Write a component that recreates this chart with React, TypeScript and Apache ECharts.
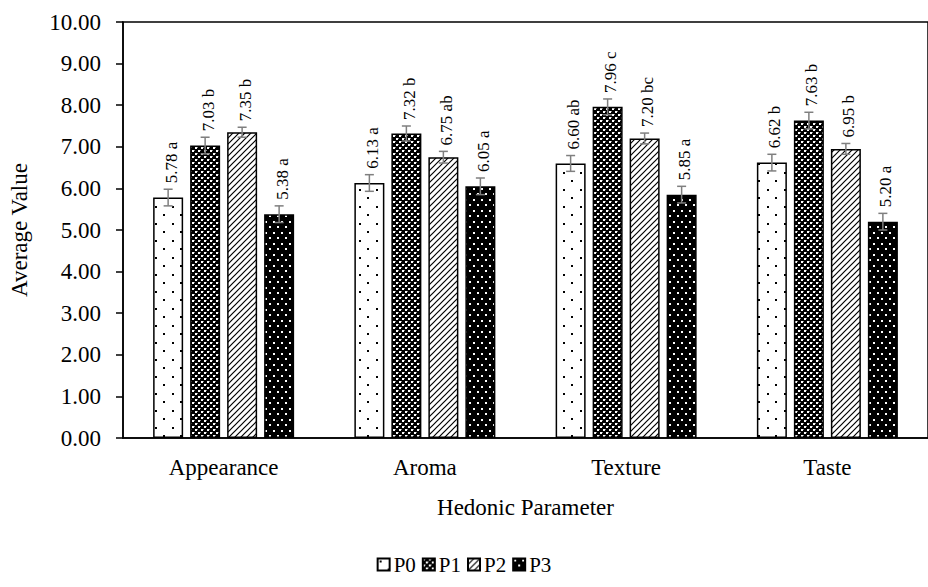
import React, { useEffect, useRef } from "react";
import * as echarts from "echarts";

const categories = ["Appearance", "Aroma", "Texture", "Taste"];
const seriesNames = ["P0", "P1", "P2", "P3"];
const p0Values = [5.78, 6.13, 6.6, 6.62];
const p1Values = [7.03, 7.32, 7.96, 7.63];
const p2Values = [7.35, 6.75, 7.2, 6.95];
const p3Values = [5.38, 6.05, 5.85, 5.2];
const p0Errors = [0.2, 0.2, 0.19, 0.2];
const p1Errors = [0.2, 0.18, 0.19, 0.2];
const p2Errors = [0.12, 0.14, 0.13, 0.13];
const p3Errors = [0.2, 0.2, 0.2, 0.2];
const p0Letters = ["a", "a", "ab", "b"];
const p1Letters = ["b", "b", "c", "b"];
const p2Letters = ["b", "ab", "bc", "b"];
const p3Letters = ["a", "a", "a", "a"];
const yMin = 0;
const yMax = 10;
const yInterval = 1;

const allValues = [p0Values, p1Values, p2Values, p3Values];
const allErrors = [p0Errors, p1Errors, p2Errors, p3Errors];
const allLetters = [p0Letters, p1Letters, p2Letters, p3Letters];

const FONT = "'Liberation Serif', 'Times New Roman', serif";
const BAR_W = 30;
const BAR_GAP = 7;

function makePattern(kind: number) {
  const c = document.createElement("canvas");
  let w = 8;
  let h = 8;
  if (kind === 0) { w = 17; h = 17; }
  if (kind === 1) { w = 6; h = 6; }
  if (kind === 2) { w = 6; h = 6; }
  if (kind === 3) { w = 8; h = 11; }
  c.width = w;
  c.height = h;
  const ctx = c.getContext("2d")!;
  if (kind === 0) {
    ctx.fillStyle = "#fff";
    ctx.fillRect(0, 0, w, h);
    ctx.fillStyle = "#000";
    ctx.fillRect(2, 2, 2, 2);
    ctx.fillRect(10, 10, 2, 2);
  } else if (kind === 1) {
    ctx.fillStyle = "#000";
    ctx.fillRect(0, 0, w, h);
    ctx.fillStyle = "#fff";
    ctx.fillRect(0, 0, 2, 2);
    ctx.fillRect(3, 3, 2, 2);
    ctx.fillStyle = "#888";
    ctx.fillRect(2, 0, 1, 1);
    ctx.fillRect(5, 3, 1, 1);
  } else if (kind === 2) {
    ctx.fillStyle = "#fff";
    ctx.fillRect(0, 0, w, h);
    ctx.strokeStyle = "#000";
    ctx.lineWidth = 1.2;
    ctx.beginPath();
    ctx.moveTo(-1, h + 1);
    ctx.lineTo(w + 1, -1);
    ctx.moveTo(-1, 1);
    ctx.lineTo(1, -1);
    ctx.moveTo(w - 1, h + 1);
    ctx.lineTo(w + 1, h - 1);
    ctx.stroke();
  } else {
    ctx.fillStyle = "#000";
    ctx.fillRect(0, 0, w, h);
    ctx.fillStyle = "#fff";
    ctx.fillRect(1, 1, 2, 2);
    ctx.fillRect(5, 6, 2, 2);
  }
  return { image: c.toDataURL(), repeat: "repeat", imageWidth: w, imageHeight: h };
}

export default function App() {
  const ref = useRef<HTMLDivElement>(null);
  useEffect(() => {
    document.body.style.margin = "0";
    const chart = echarts.init(ref.current!, null, { renderer: "svg" });
    const patterns = [0, 1, 2, 3].map((k) => makePattern(k));

    const records: any[] = [];
    for (let s = 0; s < 4; s++) {
      for (let c = 0; c < categories.length; c++) {
        records.push({ c, s, v: allValues[s][c], e: allErrors[s][c], l: allLetters[s][c] });
      }
    }

    const barSeries = seriesNames.map((name, s) => ({
      name,
      type: "bar",
      data: allValues[s],
      barWidth: BAR_W,
      barGap: (BAR_GAP / BAR_W) * 100 + "%",
      itemStyle: { color: patterns[s] as any, borderColor: "#000", borderWidth: 1.5 },
      z: 2,
    }));

    const errSeries = {
      type: "custom",
      name: "err",
      z: 5,
      data: records.map((r) => [r.c, r.v, r.e, r.s]),
      renderItem: (params: any, api: any) => {
        const r = records[params.dataIndex];
        const center = api.coord([r.c, 0])[0];
        const x = center + (r.s - 1.5) * (BAR_W + BAR_GAP);
        const yTop = api.coord([r.c, r.v + r.e])[1];
        const yBot = api.coord([r.c, r.v - r.e])[1];
        const capHalf = 4.5;
        const st = { stroke: "#7f7f7f", lineWidth: 1.5 };
        return {
          type: "group",
          children: [
            { type: "line", shape: { x1: x, y1: yTop, x2: x, y2: yBot }, style: st },
            { type: "line", shape: { x1: x - capHalf, y1: yTop, x2: x + capHalf, y2: yTop }, style: st },
            { type: "line", shape: { x1: x - capHalf, y1: yBot, x2: x + capHalf, y2: yBot }, style: st },
            {
              type: "text",
              x: x + 3,
              y: yTop - 6,
              rotation: Math.PI / 2,
              style: {
                text: r.v.toFixed(2) + " " + r.l,
                fontSize: 17,
                fontFamily: FONT,
                fill: "#000",
                align: "left",
                verticalAlign: "middle",
              },
            },
          ],
        };
      },
    };

    chart.setOption({
      animation: false,
      backgroundColor: "#fff",
      grid: {
        left: 123,
        top: 22,
        right: -11,
        bottom: 149,
        show: true,
        borderColor: "#000",
        borderWidth: 1.5,
        backgroundColor: "transparent",
      },
      legend: {
        data: seriesNames,
        left: "center",
        top: 554,
        itemWidth: 12,
        itemHeight: 12,
        itemGap: 6,
        padding: 0,
        icon: "rect",
        textStyle: { fontSize: 21, fontFamily: FONT, color: "#000", padding: [0, 0, 0, -1] },
      },
      xAxis: {
        type: "category",
        data: categories,
        name: "Hedonic Parameter",
        nameLocation: "middle",
        nameGap: 58,
        nameTextStyle: { fontSize: 23, fontFamily: FONT, color: "#000" },
        axisLine: { lineStyle: { color: "#000", width: 1.5 } },
        axisTick: { alignWithLabel: true, length: 5, lineStyle: { color: "#000", width: 1.5 } },
        axisLabel: { fontSize: 23, fontFamily: FONT, color: "#000", margin: 18 },
      },
      yAxis: {
        type: "value",
        min: yMin,
        max: yMax,
        interval: yInterval,
        name: "Average Value",
        nameLocation: "middle",
        nameGap: 92,
        nameTextStyle: { fontSize: 23, fontFamily: FONT, color: "#000" },
        axisLine: { show: true, lineStyle: { color: "#000", width: 1.5 } },
        axisTick: { show: true, length: 7, lineStyle: { color: "#000", width: 1.5 } },
        axisLabel: {
          fontSize: 23,
          fontFamily: FONT,
          color: "#000",
          margin: 22,
          formatter: (v: number) => v.toFixed(2),
        },
        splitLine: { show: false },
      },
      series: [...barSeries, errSeries],
    } as any);
    return () => chart.dispose();
  }, []);
  return (
    <div
      ref={ref}
      style={{ position: "absolute", left: 0, top: 0, width: 928, height: 587 }}
    />
  );
}
